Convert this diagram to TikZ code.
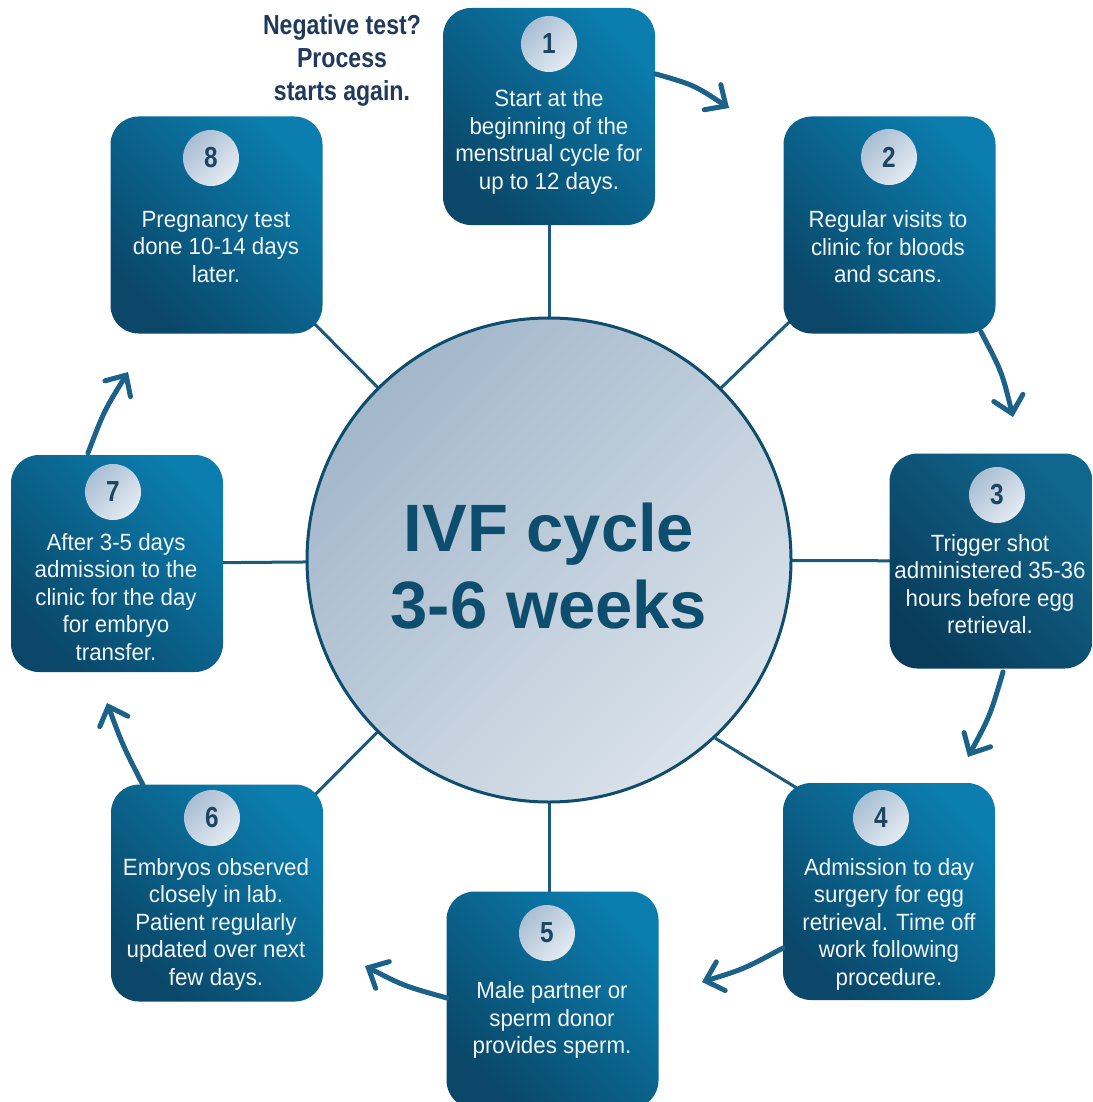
\documentclass[tikz,border=0pt]{standalone}
\usepackage{fontspec}
\setmainfont{Liberation Sans}
\newfontfamily\boxfont[FakeStretch=0.95]{Liberation Sans}
\newfontfamily\narrowfont[FakeStretch=0.84]{Liberation Sans}
\usetikzlibrary{arrows.meta,shadings}
\pgfdeclarelayer{bg}
\pgfsetlayers{bg,main}
\definecolor{boxlight}{HTML}{0B7DAE}
\definecolor{boxdark}{HTML}{0A4768}
\definecolor{boxlightB}{HTML}{10678E}
\definecolor{boxdarkB}{HTML}{093C5A}
\definecolor{discdark}{HTML}{A3B7CB}
\definecolor{disclight}{HTML}{DAE2EA}
\definecolor{numdark}{HTML}{A9BED3}
\definecolor{numlight}{HTML}{E4EBF2}
\definecolor{numtext}{HTML}{1C4561}
\definecolor{spoke}{HTML}{1B5A7C}
\definecolor{flow}{HTML}{1B6188}
\definecolor{hub}{HTML}{0D4E6E}
\definecolor{note}{HTML}{1F3A5C}
\definecolor{boxtext}{HTML}{F2F5F8}

\begin{document}
\begin{tikzpicture}[x=1pt,y=-1pt,
  stepbox/.style={rectangle, rounded corners=28pt, minimum width=212pt,
    minimum height=217pt, inner sep=0pt, top color=boxlight,
    bottom color=boxdark, shading angle=-45},
  stepboxdark/.style={stepbox, top color=boxlightB, bottom color=boxdarkB,
    shading angle=-45},
  badge/.style={circle, minimum size=56pt, inner sep=0pt, top color=numdark,
    bottom color=numlight, shading angle=45, text=numtext,
    font=\narrowfont\bfseries\fontsize{29}{29}\selectfont},
  steptext/.style={align=center, inner sep=0pt, text=boxtext,
    font=\boxfont\fontsize{23.5}{27.5}\selectfont},
  spokeline/.style={draw=spoke, line width=3pt},
  flowarrow/.style={draw=flow, line width=5pt, line cap=round,
    -{Straight Barb[length=16pt,width=30pt,line cap=round]}},
]
\useasboundingbox (0,0) rectangle (1092,1102);

% central hub
\node[circle, minimum size=484pt, inner sep=0pt, draw=hub, line width=3pt,
  top color=discdark, bottom color=disclight, shading angle=45] (hub) at (549,560) {};
\node[align=center, inner sep=0pt, text=hub,
  font=\bfseries\fontsize{67}{77}\selectfont] (hubtext) at (549,566)
  {IVF cycle\\3-6 weeks};

% step boxes
\node[stepbox]     (b1) at (549,116.5) {};
\node[stepbox]     (b2) at (889.5,225) {};
\node[stepboxdark, minimum width=203pt, minimum height=215pt] (b3) at (991,561) {};
\node[stepbox]     (b4) at (889,891.5) {};
\node[stepbox]     (b5) at (552.5,1000) {};
\node[stepbox]     (b6) at (217,893) {};
\node[stepbox]     (b7) at (117,563.5) {};
\node[stepbox]     (b8) at (216.5,225) {};

% numbered badges
\node[badge] (n1) at (549,44) {1};
\node[badge] (n2) at (889,157) {2};
\node[badge] (n3) at (997,495) {3};
\node[badge] (n4) at (881,818) {4};
\node[badge] (n5) at (547,933) {5};
\node[badge] (n6) at (212,818) {6};
\node[badge] (n7) at (113,492) {7};
\node[badge] (n8) at (211,158) {8};

% step descriptions
\node[steptext] (t1) at (549,142) {Start at the\\beginning of the\\menstrual cycle for\\up to 12 days.};
\node[steptext] (t2) at (888,247) {Regular visits to\\clinic for bloods\\and scans.};
\node[steptext] (t3) at (990,584) {Trigger shot\\administered 35-36\\hours before egg\\retrieval.};
\node[steptext] (t4) at (889,924) {Admission to day\\surgery for egg\\retrieval. Time off\\work following\\procedure.};
\node[steptext] (t5) at (552,1020) {Male partner or\\sperm donor\\provides sperm.};
\node[steptext] (t6) at (216,924) {Embryos observed\\closely in lab.\\Patient regularly\\updated over next\\few days.};
\node[steptext] (t7) at (116,597) {After 3-5 days\\admission to the\\clinic for the day\\for embryo\\transfer.};
\node[steptext] (t8) at (216,247) {Pregnancy test\\done 10-14 days\\later.};

% restart note
\node[align=center, inner sep=0pt, text=note,
  font=\narrowfont\bfseries\fontsize{27.5}{33}\selectfont] (note) at (342,60)
  {Negative test?\\Process\\starts again.};

% white canvas and the spokes joining the hub to each step, behind the shapes
\begin{pgfonlayer}{bg}
  \fill[white] (0,0) rectangle (1092,1102);
  \path[spokeline] (hub.center) -- (b1.center);
  \path[spokeline] (hub.45) -- (b2.center);
  \path[spokeline] (hub.center) -- (b3.center);
  \path[spokeline] (hub.-47) -- ([xshift=30pt,yshift=-15pt]b4.north west);
  \path[spokeline] (hub.center) -- (hub.center |- b5.center);
  \path[spokeline] (hub.center) -- (b6.center);
  \path[spokeline] (hub.center) -- (b7.center);
  \path[spokeline] (hub.center) -- (b8.center);
\end{pgfonlayer}

% flow arrow end points
\coordinate (a12s) at (656,74);   \coordinate (a12c) at (694,85);   \coordinate (a12e) at (729,108);
\coordinate (a23s) at (981,332);  \coordinate (a23c) at (1002,372); \coordinate (a23e) at (1013,417);
\coordinate (a34s) at (1003,672); \coordinate (a34c) at (990,716);  \coordinate (a34e) at (968,757);
\coordinate (a45s) at (783,948);  \coordinate (a45c) at (744,969);  \coordinate (a45e) at (702,982);
\coordinate (a56s) at (447,998);  \coordinate (a56c) at (404,986);  \coordinate (a56e) at (365,966);
\coordinate (a67s) at (143,785);  \coordinate (a67c) at (123,746);  \coordinate (a67e) at (107,703);
\coordinate (a78s) at (88,453);   \coordinate (a78c) at (104,411);  \coordinate (a78e) at (128,372);

% flow arrows between steps
\draw[flowarrow] (a12s) .. controls (a12c) .. (a12e);
\draw[flowarrow] (a23s) .. controls (a23c) .. (a23e);
\draw[flowarrow] (a34s) .. controls (a34c) .. (a34e);
\draw[flowarrow] (a45s) .. controls (a45c) .. (a45e);
\draw[flowarrow] (a56s) .. controls (a56c) .. (a56e);
\draw[flowarrow] (a67s) .. controls (a67c) .. (a67e);
\draw[flowarrow] (a78s) .. controls (a78c) .. (a78e);
\end{tikzpicture}
\end{document}
